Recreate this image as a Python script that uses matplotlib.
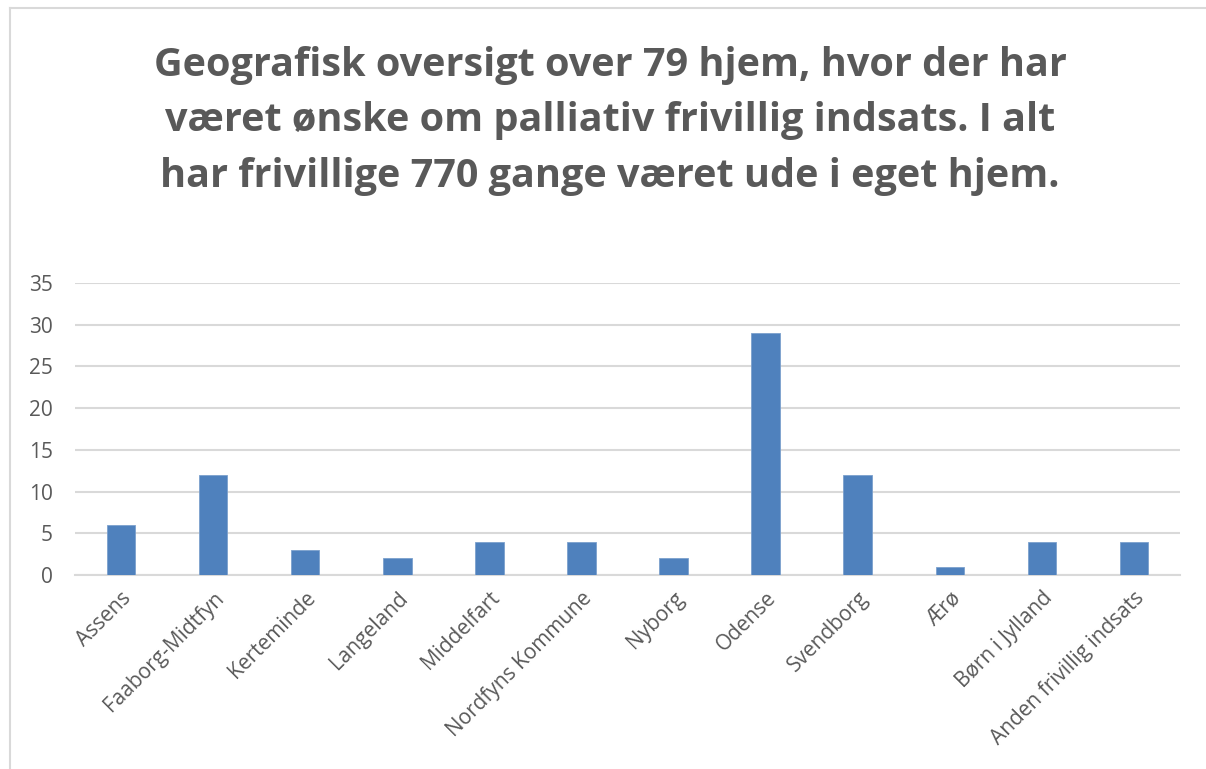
import matplotlib
matplotlib.use("Agg")
import matplotlib.pyplot as plt
from matplotlib.lines import Line2D

categories = ["Assens", "Faaborg-Midtfyn", "Kerteminde", "Langeland", "Middelfart",
              "Nordfyns Kommune", "Nyborg", "Odense", "Svendborg", "Ærø",
              "Børn i Jylland", "Anden frivillig indsats"]
values = [6, 12, 3, 2, 4, 4, 2, 29, 12, 1, 4, 4]
yticks = [0, 5, 10, 15, 20, 25, 30, 35]
title = ("Geografisk oversigt over 79 hjem, hvor der har\n"
         "været ønske om palliativ frivillig indsats. I alt\n"
         "har frivillige 770 gange været ude i eget hjem.")

plt.rcParams['font.family'] = ['Open Sans', 'DejaVu Sans']
grey = "#595959"

W, H = 1206, 769
fig = plt.figure(figsize=(W / 100, H / 100), dpi=100)

# outer chart frame
fig.add_artist(Line2D([10 / W, 10 / W], [0, 1 - 8 / H], transform=fig.transFigure,
                      color="#D9D9D9", lw=1.5))
fig.add_artist(Line2D([10 / W, 1], [1 - 8 / H, 1 - 8 / H], transform=fig.transFigure,
                      color="#D9D9D9", lw=1.5))

left, right = 75 / W, 1180 / W
bottom, top = 1 - 575 / H, 1 - 283 / H
ax = fig.add_axes([left, bottom, right - left, top - bottom])

x = list(range(len(categories)))
ax.bar(x, values, width=0.31, color="#4F81BD", edgecolor="#7BA0CD", linewidth=0.6, zorder=3)
ax.set_xlim(-0.5, len(categories) - 0.5)
ax.set_ylim(0, 35)
ax.set_yticks(yticks)
ax.set_yticklabels([str(t) for t in yticks])
ax.yaxis.grid(True, color="#D9D9D9", linewidth=1.5, zorder=0)
ax.set_axisbelow(True)
for s in ["top", "right", "left"]:
    ax.spines[s].set_visible(False)
ax.spines["bottom"].set_color("#D9D9D9")
ax.spines["bottom"].set_linewidth(1.5)
ax.tick_params(axis="both", length=0, colors=grey, labelsize=15)
ax.tick_params(axis="y", pad=16)
ax.set_xticks(x)
ax.set_xticklabels(categories, rotation=45, ha="right", rotation_mode="anchor")
ax.tick_params(axis="x", pad=9)

fig.text(0.506, 1 - 121 / H, title, ha="center", va="center", fontsize=28.5,
         fontweight="bold", color=grey, linespacing=1.55)

fig.savefig("out.png", dpi=100)
